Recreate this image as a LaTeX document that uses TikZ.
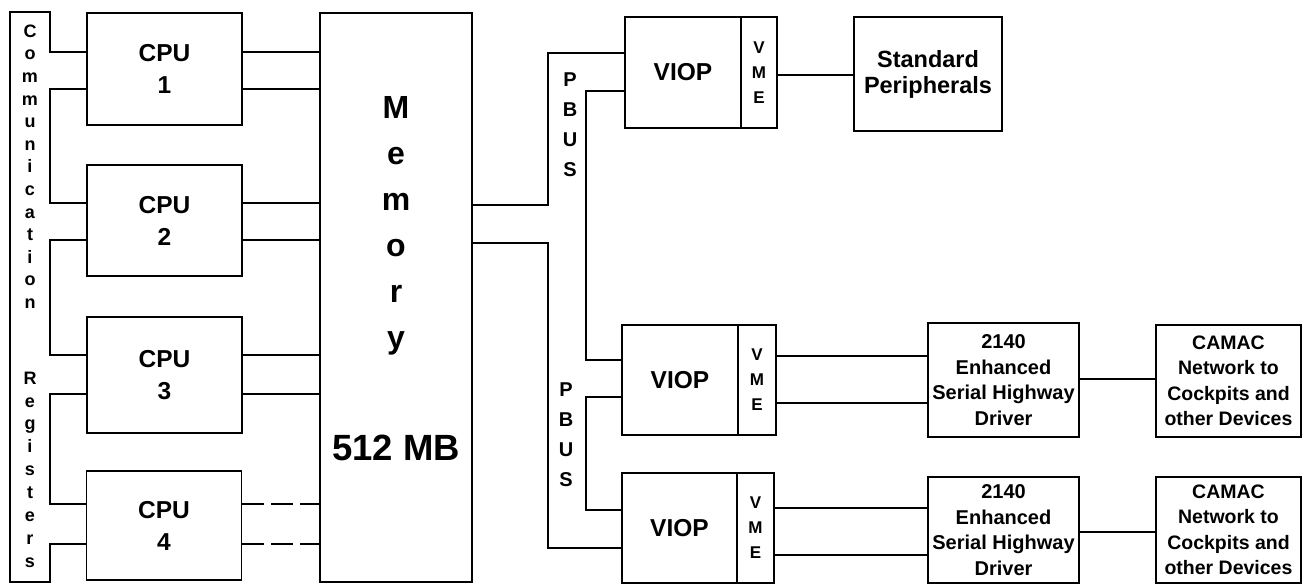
\documentclass[tikz,border=0pt]{standalone}
\usepackage{fontspec}
\setmainfont{Liberation Sans}
\newcommand\fsz[2]{\fontsize{#1}{#2}\selectfont\bfseries}
\begin{document}
\begin{tikzpicture}[x=1pt,y=-1pt,line width=1.6pt,
  box/.style={draw,inner sep=0pt,align=center},
  txt/.style={inner sep=0pt,align=center},
  big/.style={font=\fsz{24.5}{32}},
  mid/.style={font=\fsz{20}{25.5}},
  vmefont/.style={font=\fsz{17}{25}}]
\useasboundingbox (0,0) rectangle (1302,584);
% communication registers area
\node[inner sep=0pt,minimum width=38,minimum height=568] (comm) at (30,297) {};
\node[txt,font=\fsz{18}{22.6}] (commtxt) at (30,166.6) {C\\o\\m\\m\\u\\n\\i\\c\\a\\t\\i\\o\\n};
\node[txt,font=\fsz{18}{22.9}] (regtxt) at (30,469.6) {R\\e\\g\\i\\s\\t\\e\\r\\s};
% CPUs
\node[box,big,minimum width=155,minimum height=112] (cpu1) at (164.5,69) {CPU\\1};
\node[box,big,minimum width=155,minimum height=111] (cpu2) at (164.5,220.5) {CPU\\2};
\node[box,big,minimum width=155,minimum height=116] (cpu3) at (164.5,375) {CPU\\3};
\node[box,big,minimum width=155,minimum height=109] (cpu4) at (164,525.5) {CPU\\4};
% memory
\node[box,minimum width=152,minimum height=569] (mem) at (396,297.5) {};
\node[txt,font=\fsz{32}{46}] (memtxt) at (396,226) {M\\e\\m\\o\\r\\y};
\node[txt,font=\fsz{36.5}{36}] (memsize) at (396,448) {512 MB};
% VIOPs
\node[box,big,minimum width=116,minimum height=111] (viop1) at (683,72.5) {VIOP};
\node[box,vmefont,minimum width=36,minimum height=111] (vme1) at (759,72.5) {V\\M\\E};
\node[box,big,minimum width=116,minimum height=110] (viop2) at (680,380) {VIOP};
\node[box,vmefont,minimum width=38,minimum height=110] (vme2) at (757,380) {V\\M\\E};
\node[box,big,minimum width=115,minimum height=110] (viop3) at (679.5,528) {VIOP};
\node[box,vmefont,minimum width=37,minimum height=110] (vme3) at (755.5,528) {V\\M\\E};
% PBUS labels
\node[txt,font=\fsz{20}{30}] (pbus1) at (570,125) {P\\B\\U\\S};
\node[txt,font=\fsz{20}{30}] (pbus2) at (566,435) {P\\B\\U\\S};
\coordinate (bus1) at (548,0);
\coordinate (bus2) at (586,0);
% peripherals
\node[box,font=\fsz{23.5}{26},minimum width=148,minimum height=114] (periph) at (928,74) {Standard\\Peripherals};
\node[box,mid,minimum width=151,minimum height=114] (esh1) at (1003.5,380) {2140\\Enhanced\\Serial Highway\\Driver};
\node[box,mid,minimum width=151,minimum height=106] (esh2) at (1003.5,530) {2140\\Enhanced\\Serial Highway\\Driver};
\node[box,mid,font=\fsz{19.5}{25.5},minimum width=145,minimum height=112] (camac1) at (1228.5,381) {CAMAC\\Network to\\Cockpits and\\other Devices};
\node[box,mid,font=\fsz{19.5}{25.5},minimum width=145,minimum height=106] (camac2) at (1228.5,530) {CAMAC\\Network to\\Cockpits and\\other Devices};
% comm register wiring
\draw (cpu1.west |- 0,52) -| (comm.north east) -- (comm.north west) -- (comm.south west) -- (comm.south east) |- (cpu4.west |- 0,544);
\draw (cpu1.west |- 0,89) -| (comm.east |- cpu1.south) |- (cpu2.west |- 0,203);
\draw (cpu2.west |- 0,240) -| (comm.east |- cpu2.south) |- (cpu3.west |- 0,355);
\draw (cpu3.west |- 0,394) -| (comm.east |- cpu3.south) |- (cpu4.west |- 0,504);
% CPU to memory
\draw (cpu1.east |- 0,52) -- (mem.west |- 0,52);
\draw (cpu1.east |- 0,89) -- (mem.west |- 0,89);
\draw (cpu2.east |- 0,203) -- (mem.west |- 0,203);
\draw (cpu2.east |- 0,240) -- (mem.west |- 0,240);
\draw (cpu3.east |- 0,355) -- (mem.west |- 0,355);
\draw (cpu3.east |- 0,394) -- (mem.west |- 0,394);
\draw[dash pattern=on 22pt off 7pt] (cpu4.east |- 0,504) -- (mem.west |- 0,504);
\draw[dash pattern=on 22pt off 7pt] (cpu4.east |- 0,544) -- (mem.west |- 0,544);
% PBUS wiring
\draw (mem.east |- 0,205) -| (bus1 |- 0,53) -- (viop1.west |- 0,53);
\draw (mem.east |- 0,243) -| (bus1 |- 0,548) -- (viop3.west |- 0,548);
\draw (viop1.west |- 0,91) -| (bus2 |- 0,360) -- (viop2.west |- 0,360);
\draw (viop2.west |- 0,397) -| (bus2 |- 0,510) -- (viop3.west |- 0,510);
% VME links
\draw (vme1.east |- 0,75) -- (periph.west |- 0,75);
\draw (vme2.east |- 0,356) -- (esh1.west |- 0,356);
\draw (vme2.east |- 0,403) -- (esh1.west |- 0,403);
\draw (vme3.east |- 0,508) -- (esh2.west |- 0,508);
\draw (vme3.east |- 0,555) -- (esh2.west |- 0,555);
\draw (esh1.east |- 0,379) -- (camac1.west |- 0,379);
\draw (esh2.east |- 0,532) -- (camac2.west |- 0,532);
\end{tikzpicture}
\end{document}
